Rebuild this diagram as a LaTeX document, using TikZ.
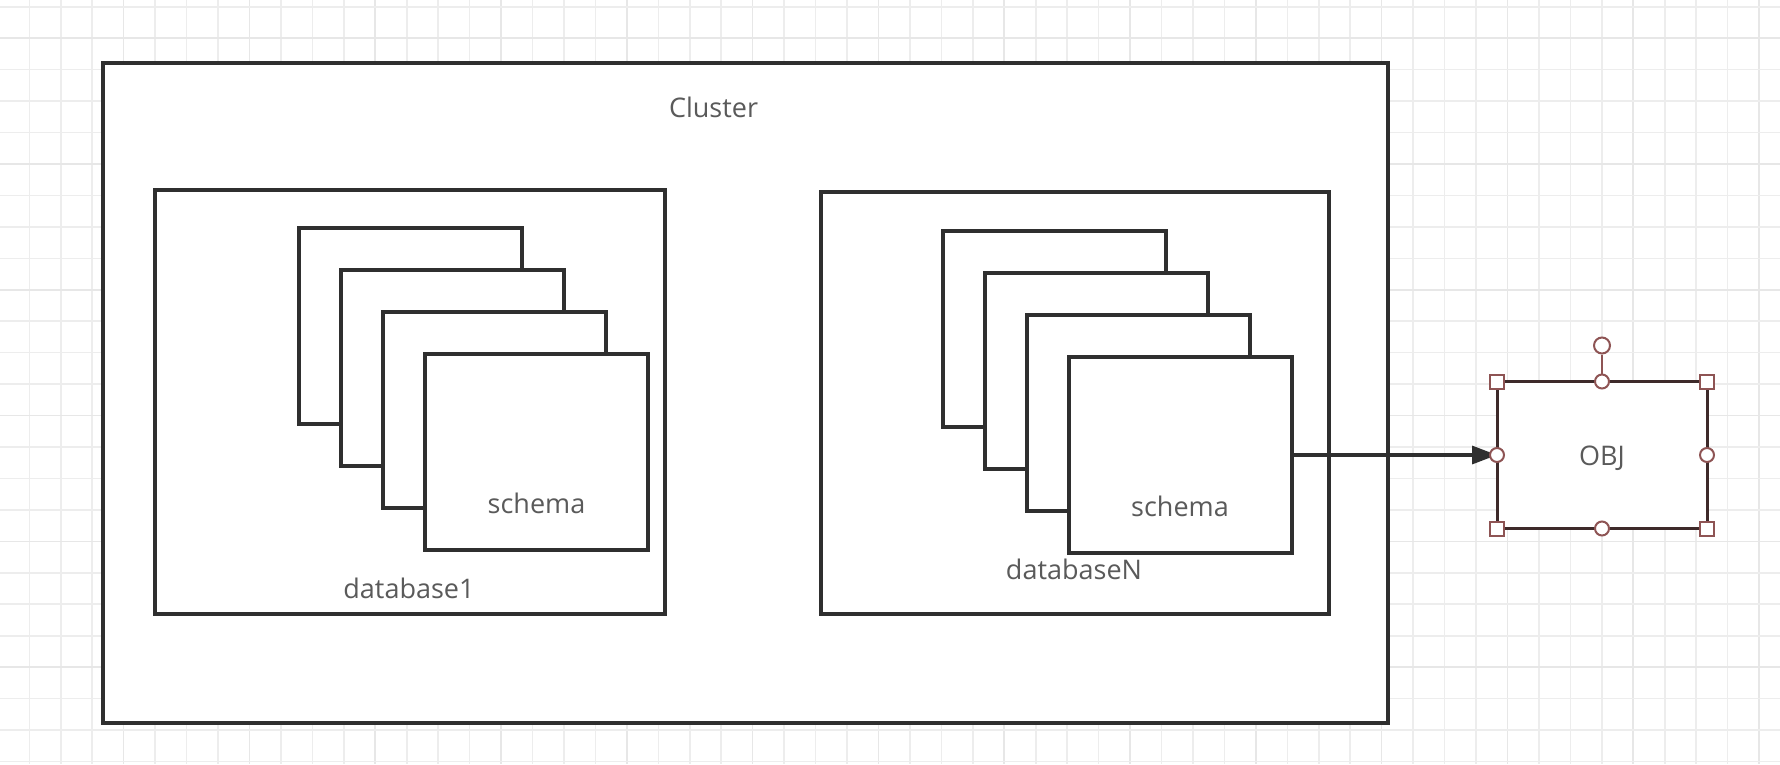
\documentclass[tikz,border=0pt]{standalone}
\usepackage{fontspec}
\setmainfont{Open Sans}
\usetikzlibrary{arrows.meta, positioning}
\definecolor{linegray}{HTML}{2F2F2F}
\definecolor{textgray}{HTML}{5A5A5A}
\definecolor{gridgray}{HTML}{EDEDED}
\definecolor{gridmajor}{HTML}{E7E7E7}
\definecolor{objline}{HTML}{3E2A2A}
\definecolor{handle}{HTML}{8E5454}
\tikzset{
  every picture/.style={line width=3.3pt},
  box/.style={draw=linegray, fill=white, rectangle, anchor=north west, outer sep=0pt, inner sep=0pt},
  schemabox/.style={box, minimum width=223pt, minimum height=196pt},
  objbox/.style={draw=objline, fill=white, rectangle, line width=3pt, outer sep=0pt, inner sep=0pt, minimum width=210pt, minimum height=147pt},
  hsquare/.style={draw=handle, fill=white, rectangle, line width=2pt, minimum size=14pt, inner sep=0pt},
  hround/.style={draw=handle, fill=white, circle, line width=2pt, minimum size=14pt, inner sep=0pt},
  lbl/.style={anchor=base, text=textgray, inner sep=0pt, font=\fontsize{27}{32}\selectfont}
}

\begin{document}
\begin{tikzpicture}[x=1pt, y=-1pt]
    \fill[white] (0,0) rectangle (1780,764);
    \useasboundingbox (0,0) rectangle (1780,764);

    % grid
    \foreach \k in {0,...,55} {
      \pgfmathsetmacro{\gx}{29.3+31.45*\k}
      \pgfmathtruncatemacro{\m}{mod(\k,4)}
      \ifnum\m=3
        \draw[gridmajor, line width=1.6pt] (\gx,0) -- (\gx,764);
      \else
        \draw[gridgray, line width=1.6pt] (\gx,0) -- (\gx,764);
      \fi
    }
    \foreach \k in {0,...,24} {
      \pgfmathsetmacro{\gy}{6.7+31.45*\k}
      \pgfmathtruncatemacro{\m}{mod(\k,4)}
      \ifnum\m=1
        \draw[gridmajor, line width=1.6pt] (0,\gy) -- (1780,\gy);
      \else
        \draw[gridgray, line width=1.6pt] (0,\gy) -- (1780,\gy);
      \fi
    }

    \node [box, minimum width=1285pt, minimum height=660pt] (cluster) at (103,63) {};
    \node [box, minimum width=510pt, minimum height=424pt] (db1) at (155,190) {};
    \node [box, minimum width=508pt, minimum height=422pt] (dbN) at (821,192) {};

    \foreach \i in {0,...,3} {
      \node [schemabox] (s1-\i) at (299+42*\i,228+42*\i) {};
      \node [schemabox] (sN-\i) at (943+42*\i,231+42*\i) {};
    }

    \node [lbl] (l-cluster) at (713.5,117) {Cluster};
    \node [lbl] (l-s1) at (536.5,513) {schema};
    \node [lbl] (l-db1) at (409,598) {database1};
    \node [lbl] (l-sN) at (1180,516) {schema};
    \node [lbl] (l-dbN) at (1074,579) {databaseN};

    \node [objbox] (obj) at (1602,455) {};
    \node [lbl] (l-obj) at (1602,465) {OBJ};

    \draw[linegray, -{Triangle[length=25pt, width=18pt]}] (sN-3.east) -- (obj.west);

    % selection handles
    \node [hround, minimum size=16pt, above=27pt of obj.north] (rot) {};
    \draw[handle, line width=2pt] (obj.north) -- (rot);
    \foreach \a in {north west, north east, south west, south east}
      \node [hsquare] (h-\a) at (obj.\a) {};
    \foreach \a in {north, south, west, east}
      \node [hround] (h-\a) at (obj.\a) {};
\end{tikzpicture}
\end{document}
